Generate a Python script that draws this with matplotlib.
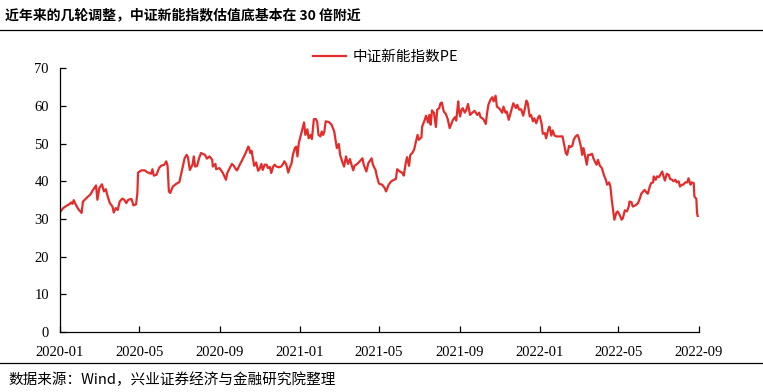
import pandas as pd
import matplotlib
matplotlib.use('Agg')
import matplotlib.pyplot as plt
import matplotlib.dates as mdates

plt.rcParams['font.family'] = ['Noto Sans CJK SC', 'DejaVu Sans']

# 中证新能指数 PE (days since 2020-01-01, value)
start_date = pd.Timestamp('2020-01-01')
day_offset = [
    1, 5, 10, 15, 17, 19, 21, 24, 28, 33, 35, 39, 43, 46, 50, 54, 55, 57, 60, 64,
    67, 70, 72, 76, 80, 82, 85, 88, 91, 95, 98, 101, 104, 109, 112, 116, 118, 119, 124, 129,
    134, 139, 141, 143, 147, 151, 154, 159, 162, 164, 166, 168, 172, 177, 182, 186, 190, 193, 195, 198,
    202, 204, 206, 209, 212, 215, 221, 224, 228, 232, 233, 237, 238, 243, 246, 248, 253, 255, 260, 262,
    265, 268, 270, 274, 278, 283, 287, 288, 290, 292, 294, 296, 299, 302, 304, 307, 309, 312, 315, 317,
    320, 322, 325, 327, 330, 334, 337, 340, 342, 345, 348, 350, 353, 355, 358, 360, 362, 364, 368, 370,
    372, 374, 377, 379, 382, 384, 387, 390, 392, 394, 397, 399, 401, 403, 405, 410, 414, 418, 420, 422,
    425, 427, 430, 433, 436, 439, 442, 444, 447, 449, 453, 457, 461, 463, 467, 470, 472, 475, 477, 481,
    483, 486, 487, 491, 495, 497, 501, 505, 509, 512, 514, 518, 522, 524, 527, 529, 532, 534, 537, 540,
    542, 545, 547, 551, 552, 556, 558, 561, 563, 565, 567, 570, 573, 575, 578, 580, 582, 585, 588, 591,
    594, 597, 599, 602, 604, 607, 608, 610, 612, 614, 617, 619, 622, 625, 628, 632, 636, 639, 641, 644,
    646, 649, 651, 653, 656, 659, 661, 664, 666, 669, 671, 674, 676, 679, 681, 684, 686, 689, 691, 695,
    697, 700, 703, 706, 708, 711, 713, 716, 718, 721, 723, 726, 729, 731, 734, 736, 739, 741, 744, 746,
    749, 751, 754, 757, 762, 766, 768, 771, 773, 776, 778, 781, 783, 786, 789, 791, 794, 796, 798, 801,
    803, 805, 808, 811, 813, 816, 818, 820, 823, 826, 829, 832, 834, 837, 839, 841, 843, 845, 848, 850,
    853, 856, 858, 861, 864, 867, 868, 871, 873, 877, 881, 884, 886, 889, 891, 894, 896, 899, 901, 904,
    905, 908, 910, 913, 915, 918, 920, 922, 925, 928, 930, 933, 935, 938, 940, 943, 945, 948, 950, 953,
    956, 958, 961, 963, 966, 967, 969, 970, 971, 972,
]
pe = [
    32.0, 32.9, 33.5, 34.0, 34.4, 34.0, 35.0, 33.8, 32.6, 31.6, 34.6, 35.3, 36.0, 36.4, 37.6, 38.6, 38.9, 35.1, 38.2, 39.2,
    37.3, 37.9, 36.4, 34.2, 33.3, 31.7, 32.9, 32.4, 34.6, 35.4, 35.1, 34.2, 35.1, 35.3, 33.6, 33.9, 36.9, 42.3, 42.9, 42.9,
    42.3, 42.0, 43.2, 41.5, 41.7, 43.5, 44.1, 44.4, 45.3, 44.1, 37.3, 36.9, 38.6, 39.3, 39.8, 43.0, 46.1, 47.0, 46.4, 43.0,
    44.4, 46.6, 43.9, 44.1, 46.1, 47.5, 47.0, 46.0, 46.6, 45.7, 43.9, 44.6, 43.2, 43.5, 42.8, 42.3, 40.4, 42.2, 43.9, 44.6,
    44.1, 43.2, 42.9, 44.4, 45.7, 47.5, 49.2, 49.0, 47.5, 48.1, 46.1, 44.1, 45.0, 42.8, 43.2, 44.6, 43.0, 44.4, 44.4, 43.5,
    43.8, 42.2, 43.9, 44.4, 43.9, 43.7, 43.9, 44.6, 45.3, 44.4, 42.3, 43.5, 44.8, 47.0, 48.8, 49.2, 46.6, 50.1, 52.9, 54.4,
    55.6, 52.3, 53.8, 51.4, 52.3, 51.2, 56.5, 56.5, 55.9, 52.3, 51.9, 53.2, 52.3, 53.2, 55.9, 55.7, 55.0, 53.2, 51.0, 48.8,
    49.9, 47.0, 45.3, 43.9, 46.6, 44.6, 45.9, 44.6, 42.9, 44.1, 44.6, 45.3, 46.1, 44.4, 42.6, 44.8, 45.3, 46.1, 44.4, 43.0,
    41.3, 39.5, 39.3, 39.1, 38.2, 37.3, 39.1, 40.0, 40.4, 40.6, 43.2, 42.6, 42.2, 41.5, 44.8, 46.4, 44.1, 47.0, 47.5, 48.5,
    50.1, 52.3, 51.0, 51.7, 54.5, 56.3, 57.4, 55.6, 57.6, 55.0, 58.8, 58.2, 54.4, 59.0, 59.4, 60.7, 60.9, 58.5, 57.9, 56.5,
    54.1, 55.4, 56.3, 57.0, 56.1, 61.2, 59.0, 57.2, 59.0, 59.4, 58.2, 58.8, 60.5, 57.6, 58.1, 58.7, 57.6, 58.2, 57.0, 56.7,
    56.3, 55.2, 58.1, 60.3, 61.6, 62.3, 61.2, 62.7, 59.8, 59.4, 59.0, 58.2, 59.8, 58.2, 58.5, 56.3, 57.6, 59.4, 60.7, 59.4,
    60.3, 59.0, 59.1, 57.4, 58.8, 61.4, 60.7, 57.2, 57.6, 55.9, 56.7, 55.4, 57.0, 57.4, 55.4, 52.6, 52.8, 51.4, 53.6, 54.5,
    52.1, 53.5, 52.1, 51.9, 51.9, 51.9, 50.1, 47.5, 47.0, 49.4, 49.1, 49.4, 51.0, 51.9, 52.3, 51.4, 49.2, 47.0, 48.8, 46.1,
    44.4, 47.0, 47.0, 47.3, 46.1, 45.0, 44.4, 45.7, 44.1, 43.5, 41.7, 40.4, 39.1, 39.7, 38.6, 35.1, 32.4, 29.8, 31.6, 32.0,
    31.1, 29.8, 30.2, 32.3, 32.0, 33.3, 34.6, 34.5, 33.3, 33.6, 34.2, 35.5, 36.7, 37.3, 37.7, 37.0, 36.7, 38.6, 39.5, 39.7,
    41.3, 40.4, 41.3, 41.1, 41.7, 42.6, 41.3, 40.2, 42.0, 41.7, 40.6, 40.4, 40.0, 40.4, 39.7, 40.0, 38.6, 39.1, 39.1, 39.7,
    39.7, 40.8, 39.1, 39.7, 39.5, 36.0, 35.5, 35.3, 31.6, 30.8,
]
yticks = [0, 10, 20, 30, 40, 50, 60, 70]

title = '近年来的几轮调整，中证新能指数估值底基本在 30 倍附近'
source = '数据来源：Wind，兴业证券经济与金融研究院整理'
series_name = '中证新能指数PE'

dates = start_date + pd.to_timedelta(day_offset, unit='D')

fig = plt.figure(figsize=(7.63, 3.92), dpi=100)
ax = fig.add_axes([0.0786, 0.153, 0.8375, 0.673])

ax.plot(dates, pe, color='#e42d2b', lw=1.6, label=series_name)

ax.set_xlim(pd.Timestamp('2020-01-01'), pd.Timestamp('2022-09-01'))
ax.set_ylim(0, 70)
ax.set_yticks(yticks)
ax.xaxis.set_major_locator(mdates.MonthLocator(bymonth=[1, 5, 9]))
ax.xaxis.set_major_formatter(mdates.DateFormatter('%Y-%m'))

for s in ['top', 'right']:
    ax.spines[s].set_visible(False)
for s in ['left', 'bottom']:
    ax.spines[s].set_linewidth(0.9)
ax.tick_params(direction='in', length=4, width=0.9)
ax.tick_params(axis='x', pad=10)
ax.tick_params(axis='y', pad=8)
for lab in ax.get_xticklabels() + ax.get_yticklabels():
    lab.set_fontfamily('Liberation Serif')
    lab.set_fontsize(10.5)

fig.legend(loc='center', bbox_to_anchor=(0.505, 0.855), frameon=False,
           handlelength=2.3, handletextpad=0.4, prop={'size': 10.5})

# title and source with rules, as in the report
fig.text(0.007, 0.96, title, fontsize=10, fontweight='bold', va='center')
fig.add_artist(plt.Line2D([0, 1], [0.923, 0.923], color='black', lw=0.9))
fig.add_artist(plt.Line2D([0, 1], [0.074, 0.074], color='black', lw=0.9))
fig.text(0.011, 0.03, source, fontsize=10.5, va='center')

fig.savefig('out.png', dpi=100)
